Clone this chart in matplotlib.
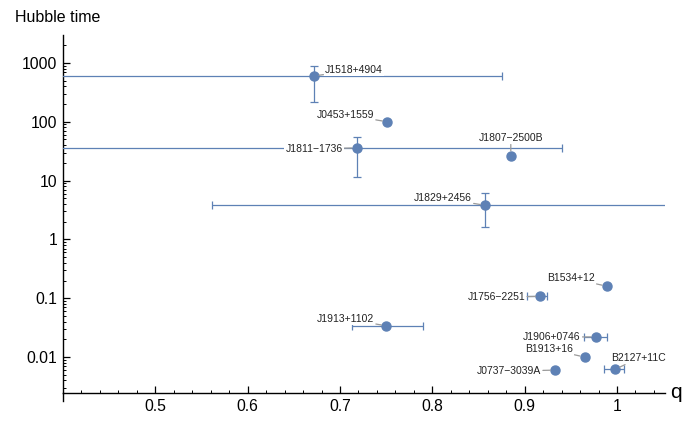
import matplotlib.pyplot as plt
from matplotlib.ticker import FixedLocator, LogLocator, NullFormatter, MultipleLocator

plt.rcParams['font.family'] = ['Liberation Sans', 'DejaVu Sans']

# pulsar binaries: mass ratio q vs merger time (in Hubble times)
names = ['J1518+4904', 'J0453+1559', 'J1811−1736', 'J1807−2500B', 'J1829+2456',
         'B1534+12', 'J1756−2251', 'J1913+1102', 'J1906+0746', 'B1913+16',
         'J0737−3039A', 'B2127+11C']
q = [0.672, 0.751, 0.718, 0.885, 0.857, 0.989, 0.917, 0.750, 0.977, 0.965, 0.933, 0.998]
t_hub = [600, 100, 36, 26.5, 3.8, 0.16, 0.108, 0.034, 0.022, 0.0100, 0.0060, 0.0062]
q_lo = [0.30, 0.751, 0.30, 0.885, 0.561, 0.989, 0.903, 0.713, 0.964, 0.965, 0.933, 0.986]
q_hi = [0.875, 0.751, 0.940, 0.885, 1.10, 0.989, 0.924, 0.790, 0.989, 0.965, 0.933, 1.008]
t_lo = [218, 100, 11.7, 26.5, 1.6, 0.16, 0.108, 0.034, 0.022, 0.0100, 0.0060, 0.0062]
t_hi = [890, 100, 56, 26.5, 6.2, 0.16, 0.108, 0.034, 0.022, 0.0100, 0.0060, 0.0062]

# label placement (pixel offsets from the point) and alignment
offsets = [(11, 6), (-13, 7), (-14, -1), (0, 18), (-13, 7), (-12, 8),
           (-15, -1), (-12, 7), (-15, 0), (-12, 8), (-14, -1), (-4, 11)]
aligns = ['left', 'right', 'right', 'center', 'right', 'right',
          'right', 'right', 'right', 'right', 'right', 'left']

blue = '#5E81B5'

fig = plt.figure(figsize=(6.95, 4.33), dpi=100)
ax = fig.add_axes([63 / 695, 1 - 393 / 433, (665 - 63) / 695, (393 - 35) / 433])

xerr = [[a - b for a, b in zip(q, q_lo)], [b - a for a, b in zip(q, q_hi)]]
yerr = [[a - b for a, b in zip(t_hub, t_lo)], [b - a for a, b in zip(t_hub, t_hi)]]
ax.errorbar(q, t_hub, xerr=xerr, yerr=yerr, fmt='o', color=blue, ms=6.5,
            elinewidth=0.9, capsize=3, capthick=0.9, zorder=3)

for name, x, y, off, ha in zip(names, q, t_hub, offsets, aligns):
    ax.annotate(name, (x, y), xytext=off, textcoords='offset pixels',
                ha=ha, va='center', fontsize=7.5, color='#222222', zorder=4,
                bbox=dict(boxstyle='square,pad=0.1', fc='white', ec='none'),
                arrowprops=dict(arrowstyle='-', color='#9a9a9a', lw=0.9,
                                shrinkA=0.5, shrinkB=3.5))

ax.set_yscale('log')
ax.set_xlim(0.4, 1.052)
ax.set_ylim(0.00245, 2985)

ax.spines['top'].set_visible(False)
ax.spines['right'].set_visible(False)
for s in ('left', 'bottom'):
    ax.spines[s].set_linewidth(1.0)

ax.xaxis.set_major_locator(FixedLocator([0.5, 0.6, 0.7, 0.8, 0.9, 1.0]))
ax.set_xticklabels(['0.5', '0.6', '0.7', '0.8', '0.9', '1'])
ax.xaxis.set_minor_locator(MultipleLocator(0.02))
ax.yaxis.set_major_locator(FixedLocator([0.01, 0.1, 1, 10, 100, 1000]))
ax.set_yticklabels(['0.01', '0.1', '1', '10', '100', '1000'])
ax.yaxis.set_minor_locator(LogLocator(base=10, subs=range(2, 10)))
ax.yaxis.set_minor_formatter(NullFormatter())

ax.tick_params(which='both', direction='in', labelsize=11.3, pad=4)
ax.tick_params(which='major', length=5, width=0.9)
ax.tick_params(which='minor', length=2.5, width=0.7)

# little stub of the y axis below the origin, as in the original
ax.plot([0, 0], [0, -0.022], transform=ax.transAxes, color='black', lw=1.0, clip_on=False)

fig.text(15 / 695, 1 - 18 / 433, 'Hubble time', fontsize=11.5, ha='left', va='center')
ax.annotate('q', (1, 0), xycoords='axes fraction', xytext=(5, 0),
            textcoords='offset pixels', fontsize=15, ha='left', va='center')

fig.savefig('out.png', dpi=100)
